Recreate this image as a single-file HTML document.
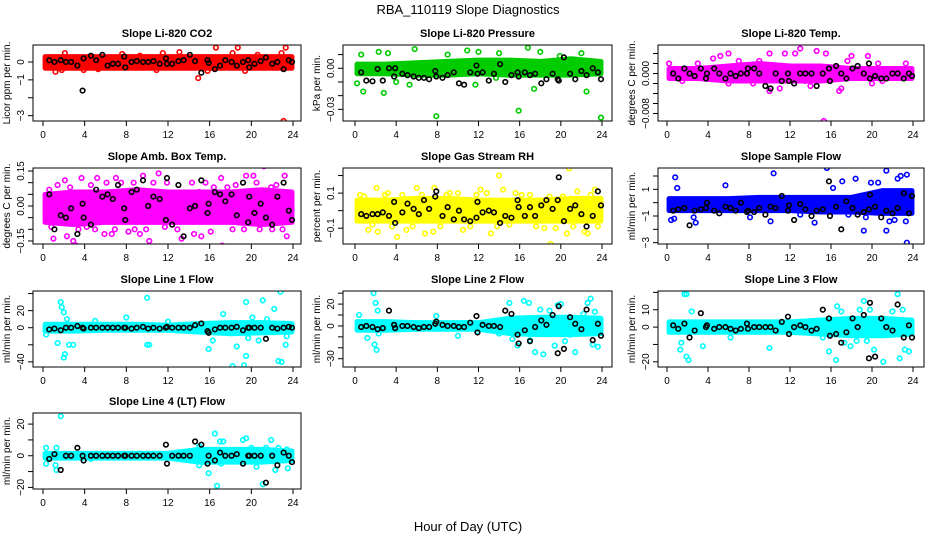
<!DOCTYPE html>
<html><head><meta charset="utf-8"><title>RBA_110119 Slope Diagnostics</title>
<style>
html,body{margin:0;padding:0;background:#fff;}
svg{display:block;font-family:"Liberation Sans",Arial,sans-serif;}
</style></head>
<body>
<svg id="chart" width="936" height="540" viewBox="0 0 936 540" xmlns="http://www.w3.org/2000/svg">
<rect width="936" height="540" fill="#fff"/>
<text x="468" y="14" text-anchor="middle" font-size="13">RBA_110119  Slope Diagnostics</text>
<text x="468" y="531" text-anchor="middle" font-size="13">Hour of Day (UTC)</text>
</svg>
<script>
const xTicks = [0,4,8,12,16,20,24];
const bandHours = [0,3,6,9,12,15,18,21,24];
const blackHours = [0.6,1.1,1.7,2.2,2.7,3.3,3.8,3.9,4.6,5.1,5.7,6.2,6.7,7.2,7.8,7.9,8.5,9.0,9.6,10.1,10.6,11.2,11.8,11.9,12.4,13.0,13.5,14.1,14.6,15.2,15.8,15.9,16.5,17.0,17.5,18.1,18.6,19.2,19.7,19.8,20.3,20.9,21.4,22.0,22.5,23.1,23.6,23.9];

// Panel 1: CO2
const co2Black = [0.1,0,0.1,0,0,-0.2,-1.6,0.2,0.35,0.1,0.4,-0.2,-0.1,-0.1,0.3,-0.3,0,0.05,0,0,0.05,-0.1,0.2,-0.1,-0.1,0.05,0.1,0.4,0.05,-0.6,0.1,-0.05,-0.4,-0.2,0.1,0,-0.2,0,0.1,-0.3,-0.1,0.05,0.25,-0.1,0,-0.4,0.1,0];
const co2Out = [[2.1,0.5],[1.2,-0.55],[16.6,0.8],[18.7,0.8],[23.3,0.8],[14.9,-0.9],[23.1,-3.3],[18.2,0.5],[22.9,0.5],[11.5,0.5],[3.9,-0.45],[15.8,-0.5],[19.4,-0.5],[9.3,0.35],[7.6,0.45],[13.1,0.55],[20.6,0.4],[5.3,-0.4],[1.8,-0.45],[10.9,-0.45]];
const co2Lo = [-0.35,-0.35,-0.35,-0.35,-0.35,-0.35,-0.35,-0.35,-0.35];
const co2Hi = [0.3,0.3,0.3,0.3,0.3,0.3,0.3,0.3,0.3];

// Panel 2: Pressure
const presBlack = [-0.003,-0.009,-0.0095,-0.0005,-0.009,0,-0.006,0,-0.004,-0.005,-0.006,-0.007,-0.007,-0.008,-0.002,-0.006,-0.007,-0.005,-0.003,-0.011,-0.012,-0.003,0.002,-0.004,-0.003,-0.009,-0.004,0.003,-0.010,-0.005,-0.003,-0.006,-0.003,-0.005,-0.004,-0.011,-0.008,-0.004,-0.008,-0.009,0.008,-0.004,-0.008,-0.002,-0.005,0,-0.003,-0.008];
const presOut = [[0.6,0.01],[0.8,-0.017],[2.3,0.012],[3.2,0.011],[2.8,-0.018],[5.8,0.014],[7.9,-0.035],[10.9,0.013],[12.0,0.012],[15.9,-0.031],[16.8,0.015],[17.4,-0.015],[22.5,-0.017],[23.9,-0.036],[0.2,-0.011],[5.3,-0.012],[9.0,0.01],[14.0,0.011],[19.9,0.009],[22.0,0.011],[18.0,0.012],[4.0,-0.01],[11.7,-0.012],[13.7,-0.007]];
const presLo = [-0.004,-0.004,-0.005,-0.005,-0.004,-0.005,-0.005,-0.005,-0.004];
const presHi = [0.003,0.003,0.004,0.005,0.006,0.006,0.005,0.007,0.005];

// Panel 3: Temp
const tempBlack = [0,-0.001,0.001,0,-0.0005,0.001,-0.001,0,0.001,0,-0.001,0,-0.0005,0,0,0.001,0.001,0,-0.0025,-0.003,0,-0.0015,0,-0.0015,-0.002,0,0,0,-0.0025,0,0.001,-0.0015,0.0015,0,-0.001,0.001,0.0015,0,0.002,-0.001,-0.0005,-0.001,-0.001,0,0,-0.001,0,-0.0005];
const tempOut = [[0.2,0.002],[1.5,-0.0015],[4.5,0.003],[5.2,0.0035],[6.0,0.004],[6.0,-0.002],[9.0,0.0025],[10.0,0.004],[10.0,-0.0035],[11.5,0.004],[12.5,0.004],[13.0,0.005],[13.5,-0.0015],[14.0,-0.0025],[14.6,0.0045],[15.3,-0.0095],[15.5,0.004],[16.8,-0.0035],[17.0,-0.003],[18.0,0.0035],[19.6,0.0035],[20.0,-0.002],[20.6,0.002],[21.0,-0.0015],[23.3,0.002],[3.0,0.002],[7.0,0.0025],[8.4,-0.002],[17.6,0.0025],[11.0,-0.003]];
const tempLo = [-0.001,-0.001,-0.0015,-0.0015,-0.0015,-0.0015,-0.001,-0.001,-0.001];
const tempHi = [0.001,0.001,0.0015,0.002,0.0015,0.0015,0.001,0.001,0.001];

// Panel 4: Amb box temp
const ambBlack = [0.05,-0.1,-0.04,-0.05,-0.01,-0.12,0.01,-0.05,-0.08,0.07,0.04,0.05,0.03,0.09,-0.01,-0.06,0.06,0.07,0.11,0,0.04,0.03,-0.06,0.12,-0.08,0.09,-0.13,-0.01,0,0.11,-0.03,0.01,0.06,0.05,0.02,0.05,-0.04,0.1,-0.07,0.04,-0.03,0.01,-0.05,-0.08,0.04,0.1,-0.02,-0.06];
const ambOut = [[0.3,0.03],[0.6,0.07],[1.0,-0.14],[1.6,-0.06],[2.1,0.11],[2.3,-0.13],[2.9,-0.15],[3.2,-0.17],[3.7,0.12],[4.2,-0.09],[5.2,0.12],[5.9,-0.12],[6.4,0.04],[6.6,-0.12],[7.0,0.12],[7.5,0.1],[8.7,0.1],[9.3,-0.12],[9.6,0.13],[10.2,-0.15],[11.1,0.14],[11.7,-0.09],[12.6,0.05],[13.3,-0.14],[13.7,-0.18],[14.5,-0.12],[15.0,0.06],[15.2,-0.13],[16.4,0.08],[17.2,-0.17],[17.1,0.12],[17.7,0.08],[18.5,0.09],[19.3,-0.1],[19.5,0.13],[20.2,0.13],[20.8,-0.1],[21.2,0.17],[21.9,0.08],[22.4,0.09],[23.2,0.13],[23.4,-0.13],[8.8,-0.1],[5.5,0.04],[14.0,0.03],[12.3,-0.05],
 [0.8,-0.09],[1.4,0.09],[2.6,0.08],[3.4,-0.1],[4.6,0.09],[5.0,-0.1],[6.1,0.1],[6.9,-0.1],[8.2,-0.11],[9.9,-0.1],[10.6,0.1],[11.9,0.1],[12.9,-0.1],[14.3,0.1],[15.6,0.1],[16.1,-0.11],[18.2,-0.1],[20.5,0.1],[22.0,-0.1],[23.0,-0.1]];
const ambLo = [-0.07,-0.08,-0.07,-0.07,-0.07,-0.07,-0.07,-0.08,-0.07];
const ambHi = [0.05,0.06,0.06,0.07,0.06,0.06,0.06,0.07,0.06];

// Panel 5: RH
const rhBlack = [-0.02,-0.03,-0.02,-0.02,-0.01,-0.03,0.05,-0.07,-0.01,0.04,0.01,-0.02,0.06,0.01,0.08,0.11,-0.03,0.02,-0.05,0,-0.05,-0.06,-0.04,0.05,-0.01,0,-0.01,-0.07,-0.03,-0.04,0.06,0.02,-0.03,0.02,-0.03,0.03,0.06,0.01,0.06,0.19,-0.06,0.01,0.03,-0.02,-0.09,-0.03,0.11,0.03];
const rhOut = [[0.5,0.09],[1.3,-0.11],[2.1,0.13],[2.2,-0.12],[3.2,0.1],[4.1,-0.15],[5.0,-0.11],[6.0,0.13],[6.8,-0.13],[7.7,0.13],[7.6,-0.12],[9.2,0.1],[10.5,-0.11],[12.2,0.12],[13.2,-0.13],[14.0,0.2],[14.4,0.12],[15.6,0.1],[17.0,0.09],[18.4,-0.1],[19.0,-0.19],[19.5,-0.1],[20.2,0.08],[20.6,-0.13],[20.8,0.24],[21.6,0.11],[22.3,-0.12],[22.6,-0.13],[23.3,0.12],[23.6,-0.09],
 [0.9,0.08],[1.7,-0.08],[2.9,0.09],[3.6,-0.09],[4.6,0.09],[5.6,-0.09],[6.5,0.09],[8.3,-0.09],[8.9,0.09],[10.0,0.1],[11.2,-0.09],[11.8,0.09],[12.8,0.1],[13.8,-0.09],[15.0,-0.08],[16.2,0.09],[17.6,-0.09],[18.9,0.08],[21.2,-0.09],[22.9,0.09]];
const rhLo = [-0.06,-0.06,-0.06,-0.06,-0.06,-0.06,-0.06,-0.06,-0.06];
const rhHi = [0.06,0.06,0.07,0.07,0.06,0.06,0.06,0.07,0.07];

// Panel 6: Sample flow
const sampBlack = [-0.6,-0.5,-0.4,-1.7,-0.6,-0.5,-0.4,0,-0.6,-0.8,-0.3,-0.4,-0.6,0,-0.7,-0.6,-0.7,-0.4,-0.9,-0.3,-0.4,0.5,-0.6,-0.2,-1.3,-0.1,-0.5,-1.0,-0.6,-0.5,1.6,-1.0,-0.3,-2.0,0.1,-0.4,-0.9,-0.7,-0.5,0.6,-0.3,-1.1,-0.6,-0.8,-0.4,0.7,-0.8,0.5];
const sampOut = [[0.4,-1.3],[0.7,-1.2],[0.8,1.9],[1.0,1.1],[2.8,-1.5],[2.6,-1.1],[5.7,1.3],[10.4,2.2],[10.1,-1.4],[14.4,-1.5],[15.6,2.6],[16.2,1.1],[17.1,1.6],[17.7,-0.9],[18.4,1.8],[19.2,-2.1],[19.4,-1.1],[19.9,1.5],[20.6,1.5],[21.4,2.4],[21.4,-2.1],[21.7,-1.4],[22.5,1.8],[22.8,2.0],[23.3,-1.4],[23.4,2.1],[23.4,-3.0],[22.2,-1.3],[8.1,-1.1],[13.0,-0.9]];
const sampLo = [-0.6,-0.6,-0.6,-0.6,-0.6,-0.7,-0.7,-0.8,-0.8];
const sampHi = [0.3,0.3,0.3,0.4,0.4,0.4,0.4,0.9,0.9];

// Panel 7: Line 1
const l1Black = [-2,-1,-3,0,0,2,0,-1,0,0,0,0,0,0,0,0,-1,0,1,-1,0,-1,0,1,0,0,0,0,3,5,-4,-6,-2,0,0,0,1,-3,0,0,0,0,-13,0,-1,0,1,0];
const l1Out = [[1.7,30],[1.8,24],[2.0,18],[1.4,-18],[2.0,-35],[2.1,-31],[2.5,-20],[2.9,-20],[0.3,-8],[2.3,10],[10.0,35],[10.0,-20],[10.2,-20],[8.0,12],[15.9,-25],[16.3,-15],[17.3,16],[17.9,-5],[18.2,-45],[18.6,-22],[19.3,-44],[19.5,30],[19.5,-33],[19.7,-12],[20.7,-15],[21.1,32],[22.2,22],[22.6,-39],[22.9,-40],[22.8,42],[23.3,-20],[23.4,-10],[20.1,12],[21.5,10],[5.0,8],[12.0,7]];
const l1Lo = [-4,-4,-3,-3,-3,-5,-7,-6,-5];
const l1Hi = [4,4,4,4,3,5,6,6,5];

// Panel 8: Line 2
const l2Black = [-1,0,-1,-3,-2,14,1,-2,0,0,-1,-2,-1,-1,2,4,1,0,0,-1,-1,3,9,-6,1,0,0,-1,14,11,-8,-16,-4,-14,-1,5,1,10,-25,18,-21,8,2,-3,15,-13,2,-9];
const l2Out = [[0.4,10],[1.2,-11],[1.8,30],[2.0,21],[1.9,-17],[2.1,-22],[2.2,14],[2.3,-7],[7.9,9],[10.0,-9],[11.9,-5],[14.0,-7],[15.0,21],[15.3,-12],[16.4,23],[16.9,21],[17.5,-24],[18.0,15],[18.3,-26],[18.9,14],[19.4,-18],[19.7,19],[20.0,20],[20.4,-14],[20.9,-8],[21.4,-24],[22.2,11],[22.6,21],[22.9,25],[23.1,-17],[23.3,13],[23.6,-19],[15.8,-18],[17.0,-13]];
const l2Lo = [-4,-4,-3,-3,-3,-7,-8,-8,-7];
const l2Hi = [4,4,3,3,3,7,8,8,7];

// Panel 9: Line 3
const l3Black = [1,-1,2,-6,-2,8,0,1,-1,0,0,-1,-2,-1,2,-1,0,0,0,0,-2,3,6,-4,0,1,0,-2,-1,10,5,-5,-4,-9,-3,5,0,7,-18,14,-17,5,0,-2,13,-6,1,-6];
const l3Out = [[1.7,19],[1.9,19],[1.4,-9],[1.3,-13],[2.4,9],[1.9,-17],[2.1,-19],[3.5,-11],[6.2,-6],[10.0,-12],[15.2,-6],[15.8,-14],[16.5,-19],[16.6,12],[17.3,-9],[17.9,-11],[18.5,-8],[18.8,10],[19.2,15],[19.5,-8],[19.8,10],[20.2,-13],[21.1,-20],[22.0,9],[22.5,19],[22.7,-18],[23.0,10],[23.2,-13],[23.6,-14],[17.0,9]];
const l3Lo = [-3,-3,-3,-3,-3,-4,-5,-5,-4];
const l3Hi = [3,3,3,3,3,4,5,5,4];

// Panel 10: Line 4
const l4Black = [-2,1,-9,0,0,5,0,-3,0,0,0,0,0,0,0,0,0,0,0,0,0,0,7,-5,0,0,0,0,9,7,-5,0,-3,2,0,0,1,-5,0,0,0,0,-17,0,-6,2,0,-4];
const l4Out = [[0.3,5],[0.3,-5],[1.3,5],[1.2,-6],[1.3,-9],[1.7,25],[15.0,-6],[15.0,6],[15.9,-11],[16.5,14],[16.7,-19],[17.0,9],[17.3,9],[17.1,-5],[19.2,10],[19.5,11],[20.0,5],[20.5,-7],[21.1,-18],[21.4,5],[21.9,10],[22.3,-9],[22.6,5],[23.5,-8],[23.4,4],[14.8,3],[4.6,-2]];
const l4Lo = [-1.5,-1.5,-1.5,-1.5,-1.5,-4,-4,-4,-3];
const l4Hi = [1.5,1.5,1.5,1.5,1.5,4,4,4,3];

const svg = document.getElementById('chart');
const NS = 'http://www.w3.org/2000/svg';
function mk(tag, attrs, parent){
  const e = document.createElementNS(NS, tag);
  for (const k in attrs) e.setAttribute(k, attrs[k]);
  (parent||svg).appendChild(e);
  return e;
}
const cols = [{l:33,r:301,x0:43,x24:293},{l:343,r:612,x0:355,x24:602},{l:658,r:924,x0:667,x24:913}];
const rows = [45,168,291,413];
const H = 76;

const panels = [
 {key:'co2',title:'Slope Li-820 CO2',ylab:'Licor ppm per min.',c:0,r:0,top:0.95,bot:-3.3,ticks:[0,-1,-2,-3],labs:['0','-1','','-3'],color:'#ff0000',black:co2Black,out:co2Out,lo:co2Lo,hi:co2Hi},
 {key:'pressure',title:'Slope Li-820 Pressure',ylab:'kPa per min.',c:1,r:0,top:0.017,bot:-0.0385,ticks:[0.01,0,-0.01,-0.02,-0.03],labs:['','0.00','','','-0.03'],color:'#00cc00',black:presBlack,out:presOut,lo:presLo,hi:presHi},
 {key:'temp',title:'Slope Li-820 Temp.',ylab:'degrees C per min.',c:2,r:0,top:0.0057,bot:-0.0095,ticks:[0.004,0.002,0,-0.002,-0.004,-0.006,-0.008],labs:['','','0.000','','','','-0.008'],color:'#ff00ff',black:tempBlack,out:tempOut,lo:tempLo,hi:tempHi},
 {key:'amb-temp',title:'Slope Amb. Box Temp.',ylab:'degrees C per min.',c:0,r:1,top:0.163,bot:-0.163,ticks:[0.15,0.1,0.05,0,-0.05,-0.1,-0.15],labs:['0.15','','','0.00','','','-0.15'],color:'#ff00ff',black:ambBlack,out:ambOut,lo:ambLo,hi:ambHi},
 {key:'rh',title:'Slope Gas Stream RH',ylab:'percent per min.',c:1,r:1,top:0.243,bot:-0.19,ticks:[0.2,0.1,0,-0.1],labs:['','0.1','','-0.1'],color:'#ffff00',black:rhBlack,out:rhOut,lo:rhLo,hi:rhHi},
 {key:'sample-flow',title:'Slope Sample Flow',ylab:'ml/min per min.',c:2,r:1,top:2.6,bot:-3.1,ticks:[2,1,0,-1,-2,-3],labs:['','1','','-1','','-3'],color:'#0000ff',black:sampBlack,out:sampOut,lo:sampLo,hi:sampHi},
 {key:'line1',title:'Slope Line 1 Flow',ylab:'ml/min per min.',c:0,r:2,top:43,bot:-46,ticks:[40,20,0,-20,-40],labs:['','20','0','','-40'],color:'#00ffff',black:l1Black,out:l1Out,lo:l1Lo,hi:l1Hi},
 {key:'line2',title:'Slope Line 2 Flow',ylab:'ml/min per min.',c:1,r:2,top:32,bot:-37.6,ticks:[30,20,10,0,-10,-20,-30],labs:['','20','','0','','','-30'],color:'#00ffff',black:l2Black,out:l2Out,lo:l2Lo,hi:l2Hi},
 {key:'line3',title:'Slope Line 3 Flow',ylab:'ml/min per min.',c:2,r:2,top:20.8,bot:-23,ticks:[20,10,0,-10,-20],labs:['','10','0','','-20'],color:'#00ffff',black:l3Black,out:l3Out,lo:l3Lo,hi:l3Hi},
 {key:'line4',title:'Slope Line 4 (LT) Flow',ylab:'ml/min per min.',c:0,r:3,top:27,bot:-21,ticks:[20,10,0,-10,-20],labs:['20','','0','','-20'],color:'#00ffff',black:l4Black,out:l4Out,lo:l4Lo,hi:l4Hi}
];

panels.forEach(p => {
  const col = cols[p.c], t = rows[p.r], b = t + H;
  const xs = h => col.x0 + (col.x24 - col.x0) * h / 24;
  const ys = v => t + (p.top - v) / (p.top - p.bot) * H;
  const g = mk('g', {});
  
  
  const cx = (col.l + col.r) / 2;
  const ti = mk('text', {x:cx, y:t-8, 'text-anchor':'middle', 'font-size':'11', 'font-weight':'bold'}, g);
  ti.textContent = p.title;
  
  
  const cid = 'clip-' + p.key;
  const cp = mk('clipPath', {id:cid}, g);
  mk('rect', {x:col.l, y:t, width:col.r-col.l, height:H}, cp);
  const pg = mk('g', {'clip-path':'url(#' + cid + ')'}, g);
  let pts = [];
  bandHours.forEach((h,i) => pts.push(xs(Math.min(Math.max(h,0.2),23.9)) + ',' + ys(p.hi[i])));
  for (let i = bandHours.length - 1; i >= 0; i--) pts.push(xs(Math.min(Math.max(bandHours[i],0.2),23.9)) + ',' + ys(p.lo[i]));
  const band = mk('polygon', {points:pts.join(' '), fill:p.color, stroke:p.color, 'stroke-width':'5', 'stroke-linejoin':'round'}, pg);
  
  
  p.out.forEach(d => {
    const c = mk('circle', {cx:xs(d[0]), cy:ys(d[1]), r:2.3, fill:'none', stroke:p.color, 'stroke-width':'1.6'}, pg);
    
    
  });
  p.black.forEach((v,i) => {
    const c = mk('circle', {cx:xs(blackHours[i]), cy:ys(v), r:2.3, fill:'none', stroke:'#000', 'stroke-width':'1.6'}, pg);
    
    
  });
  mk('rect', {x:col.l, y:t, width:col.r-col.l, height:H, fill:'none', stroke:'#000', 'stroke-width':'1'}, g);
  mk('line', {x1:xs(xTicks[0]), x2:xs(xTicks[xTicks.length-1]), y1:b, y2:b, stroke:'#000'}, g);
  xTicks.forEach(h => {
    mk('line', {x1:xs(h), x2:xs(h), y1:b, y2:b+5, stroke:'#000'}, g);
    const tx = mk('text', {x:xs(h), y:b+17, 'text-anchor':'middle', 'font-size':'10'}, g);
    tx.textContent = h;
    
    
  });
  mk('line', {x1:col.l, x2:col.l, y1:ys(p.ticks[0]), y2:ys(p.ticks[p.ticks.length-1]), stroke:'#000'}, g);
  p.ticks.forEach((v,i) => {
    const y = ys(v);
    mk('line', {x1:col.l-5, x2:col.l, y1:y, y2:y, stroke:'#000'}, g);
    if (p.labs[i]) {
      const tx = mk('text', {x:col.l-9, y:y, 'text-anchor':'middle', 'font-size':'10', transform:'rotate(-90 ' + (col.l-9) + ' ' + y + ')'}, g);
      tx.textContent = p.labs[i].replace('-', '\u2212');
      
      
    }
  });
  const yl = t + H/2, xl = col.l - 23;
  const yt = mk('text', {x:xl, y:yl, 'text-anchor':'middle', 'font-size':'10', transform:'rotate(-90 ' + xl + ' ' + yl + ')'}, g);
  yt.textContent = p.ylab;
  
  
});
</script>
</body></html>
